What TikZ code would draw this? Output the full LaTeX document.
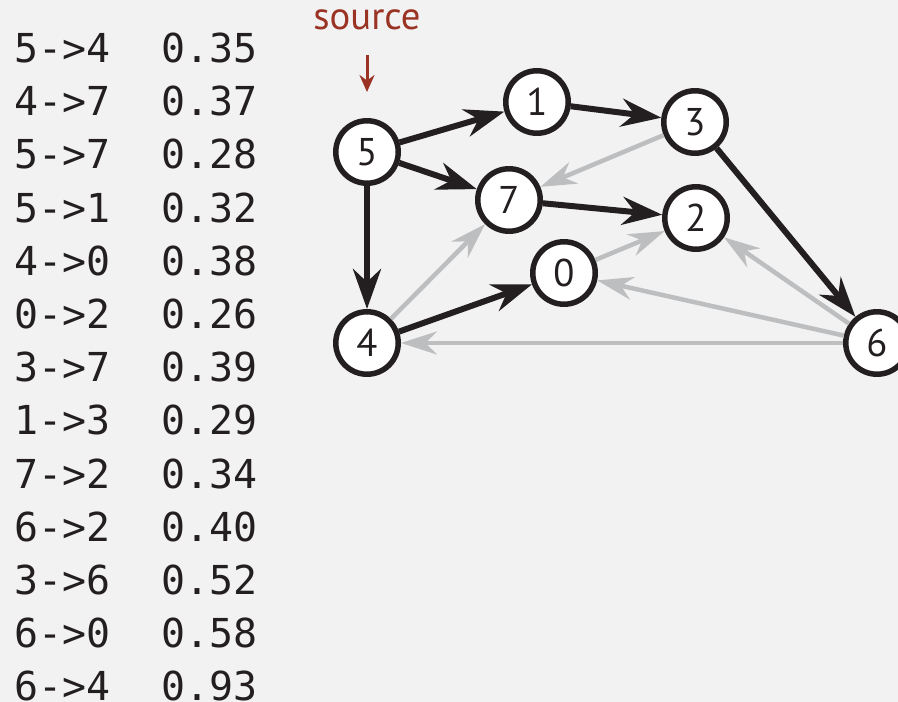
\documentclass[tikz,border=0pt]{standalone}
\usepackage{fontspec}
\setmainfont{PT Sans}
\newfontfamily\tablefont{DejaVu Sans Mono}
\usetikzlibrary{positioning, arrows.meta}
\definecolor{bg}{HTML}{F2F2F2}
\definecolor{ink}{HTML}{231F20}
\definecolor{faint}{HTML}{BCBEC0}
\definecolor{srcred}{HTML}{9A3324}

\begin{document}
\begin{tikzpicture}[x=0.02cm, y=-0.02cm,
	c/.style={circle, draw=ink, line width=0.11cm, fill=white, minimum size=1.25cm, inner sep=0pt, text=ink, font=\fontsize{22}{24}\selectfont},
	row/.style={anchor=base west, inner sep=0pt, text=ink, font=\tablefont\fontsize{22.7}{26}\selectfont},
	tree/.style={ink, line width=0.12cm, -{Stealth[length=0.8cm, width=0.56cm]}},
	other/.style={faint, line width=0.09cm, -{Stealth[length=0.72cm, width=0.46cm]}}]
		\useasboundingbox (0,0) rectangle (898,702);
		\fill[bg] (0,0) rectangle (898,702);
		\clip (0,0) rectangle (898,702);

		% edge list
		\foreach \e/\w [count=\i from 0] in {5->4/0.35, 4->7/0.37, 5->7/0.28, 5->1/0.32, 4->0/0.38, 0->2/0.26, 3->7/0.39, 1->3/0.29, 7->2/0.34, 6->2/0.40, 3->6/0.52, 6->0/0.58, 6->4/0.93}
		{
			\node[row] (e\i) at (14, 62.5+53.2*\i) {\e};
			\node[row] (w\i) at (161, 62.5+53.2*\i) {\w};
		}

		\node[c] (v5) at (367,152) {5};
		\node[c] (v1) at (537,102) {1};
		\node[c] (v3) at (695,122) {3};
		\node[c] (v7) at (509,200) {7};
		\node[c] (v2) at (696,218) {2};
		\node[c] (v0) at (564,273) {0};
		\node[c] (v4) at (367,343) {4};
		\node[c] (v6) at (877,343) {6};

		\node[inner sep=0pt, text=srcred, font=\fontsize{22}{24}\selectfont] (src) at (367,20) {source};
		\draw[srcred, line width=0.06cm, -{Stealth[length=0.34cm, width=0.3cm]}, shorten <=0.5cm, shorten >=0.52cm] (src) -- (v5);

		\path[other] (v3) edge (v7);
		\path[other] (v4) edge (v7);
		\path[other] (v0) edge (v2);
		\path[other] (v6) edge (v2);
		\path[other] (v6) edge (v0);
		\path[other] (v6) edge (v4);

		\path[tree] (v5) edge (v1);
		\path[tree] (v5) edge (v7);
		\path[tree] (v5) edge (v4);
		\path[tree] (v1) edge (v3);
		\path[tree] (v7) edge (v2);
		\path[tree] (v4) edge (v0);
		\path[tree] (v3) edge (v6);
	\end{tikzpicture}
\end{document}
